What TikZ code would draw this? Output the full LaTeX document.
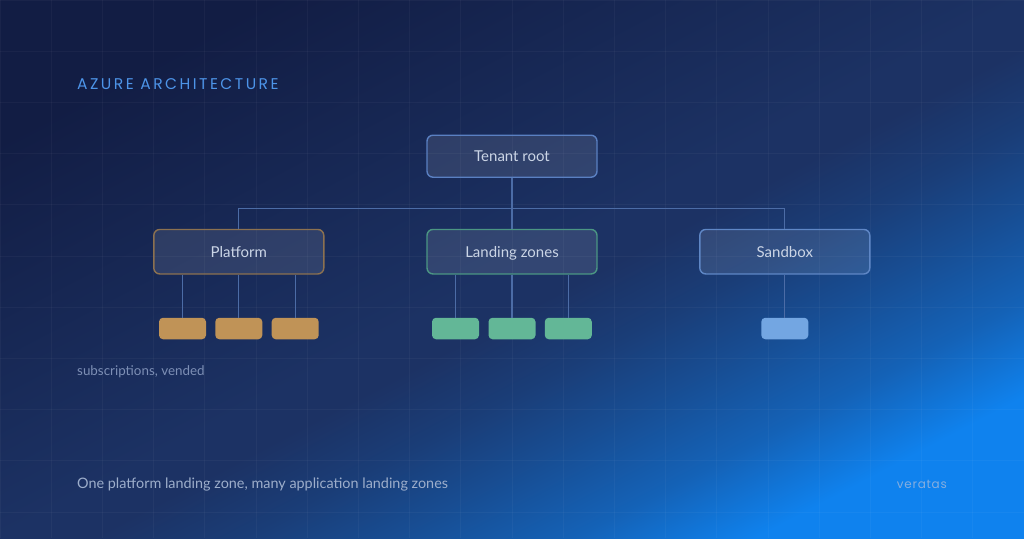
\documentclass[tikz,border=0pt]{standalone}
\usepackage{fontspec}
\setmainfont{Lato}
\newfontfamily\titlefont{Poppins}[LetterSpace=16]
\newfontfamily\brandfont{Poppins}[LetterSpace=6]
\definecolor{bgMid}{HTML}{1C3264}
\definecolor{bgDark}{HTML}{121D44}
\definecolor{glowA}{HTML}{0F82EE}
\definecolor{titleblue}{HTML}{4D94E8}
\definecolor{labelc}{HTML}{CBD5E6}
\definecolor{subc}{HTML}{7D8FB5}
\definecolor{capc}{HTML}{9DAECB}
\definecolor{brandc}{HTML}{86AEDF}
\definecolor{rootc}{HTML}{5A80C2}
\definecolor{platc}{HTML}{8C7150}
\definecolor{lzc}{HTML}{4B9683}
\definecolor{sandc}{HTML}{5F87C6}
\definecolor{connc}{HTML}{4C6CA6}
\definecolor{platleaf}{HTML}{C09357}
\definecolor{lzleaf}{HTML}{63B797}
\definecolor{sandleaf}{HTML}{73A6E2}
\pgfdeclarehorizontalshading{bgdiag}{100bp}{color(0bp)=(bgDark); color(25bp)=(bgDark); color(37.5bp)=(bgDark!50!bgMid); color(50bp)=(bgMid); color(53bp)=(bgMid); color(58bp)=(glowA!14!bgMid); color(63bp)=(glowA!34!bgMid); color(69bp)=(glowA!60!bgMid); color(75bp)=(glowA); color(100bp)=(glowA)}
\tikzset{
  gridline/.style={white, opacity=0.035, line width=1},
  box/.style={draw, rounded corners=6, fill=white, fill opacity=0.1, text opacity=1,
    line width=1.4, minimum width=170, minimum height=44.5, inner sep=0, text=labelc,
    font=\fontsize{15}{17}\selectfont, text height=10.8, text depth=0},
  leaf/.style={rounded corners=4, minimum width=47, minimum height=21.5, inner sep=0},
  conn/.style={connc, line width=1.2},
  plain/.style={inner sep=0}
}
\begin{document}
\begin{tikzpicture}[x=1pt,y=-1pt]
\useasboundingbox (0,0) rectangle (1024,538);
\shade[shading=bgdiag, shading angle=-62.28] (0,0) rectangle (1024,538);
\foreach \i in {0,...,20} \draw[gridline] (\i*51.2,0) -- (\i*51.2,538);
\foreach \j in {0,...,10} \draw[gridline] (0,\j*51.2) -- (1024,\j*51.2);

\node[plain, anchor=base west, text=titleblue, font=\titlefont\fontsize{15.5}{18}\selectfont] (title) at (77,89) {AZURE ARCHITECTURE};

\node[box, draw=rootc, minimum height=42] (root) at (512,156.2) {Tenant root};
\node[box, draw=platc] (plat) at (238.8,251.7) {Platform};
\node[box, draw=lzc] (lz) at (512,251.7) {Landing zones};
\node[box, draw=sandc] (sand) at (784.8,251.7) {Sandbox};

\node[leaf, fill=platleaf] (p1) at (182.5,328.5) {};
\node[leaf, fill=platleaf] (p2) at (238.8,328.5) {};
\node[leaf, fill=platleaf] (p3) at (295.2,328.5) {};
\node[leaf, fill=lzleaf] (l1) at (455.5,328.5) {};
\node[leaf, fill=lzleaf] (l2) at (512,328.5) {};
\node[leaf, fill=lzleaf] (l3) at (568.3,328.5) {};
\node[leaf, fill=sandleaf] (s1) at (784.8,328.5) {};

\coordinate (bus) at (512,208.3);
\draw[conn] (root.south) -- (lz.north);
\draw[conn] (plat.north) |- (bus) -| (sand.north);
\foreach \c in {p1,p2,p3} \draw[conn] (plat.south -| \c.north) -- (\c.north);
\foreach \c in {l1,l2,l3} \draw[conn] (lz.south -| \c.north) -- (\c.north);
\draw[conn] (sand.south -| s1.north) -- (s1.north);

\node[plain, anchor=base west, text=subc, font=\fontsize{13.4}{15}\selectfont] (sub) at (77,375.5) {subscriptions, vended};
\node[plain, anchor=base west, text=capc, font=\fontsize{14.4}{16}\selectfont] (cap) at (77,488) {One platform landing zone, many application landing zones};
\node[plain, anchor=base east, text=brandc, font=\brandfont\fontsize{12}{14}\selectfont] (brand) at (947,488) {veratas};
\end{tikzpicture}
\end{document}
